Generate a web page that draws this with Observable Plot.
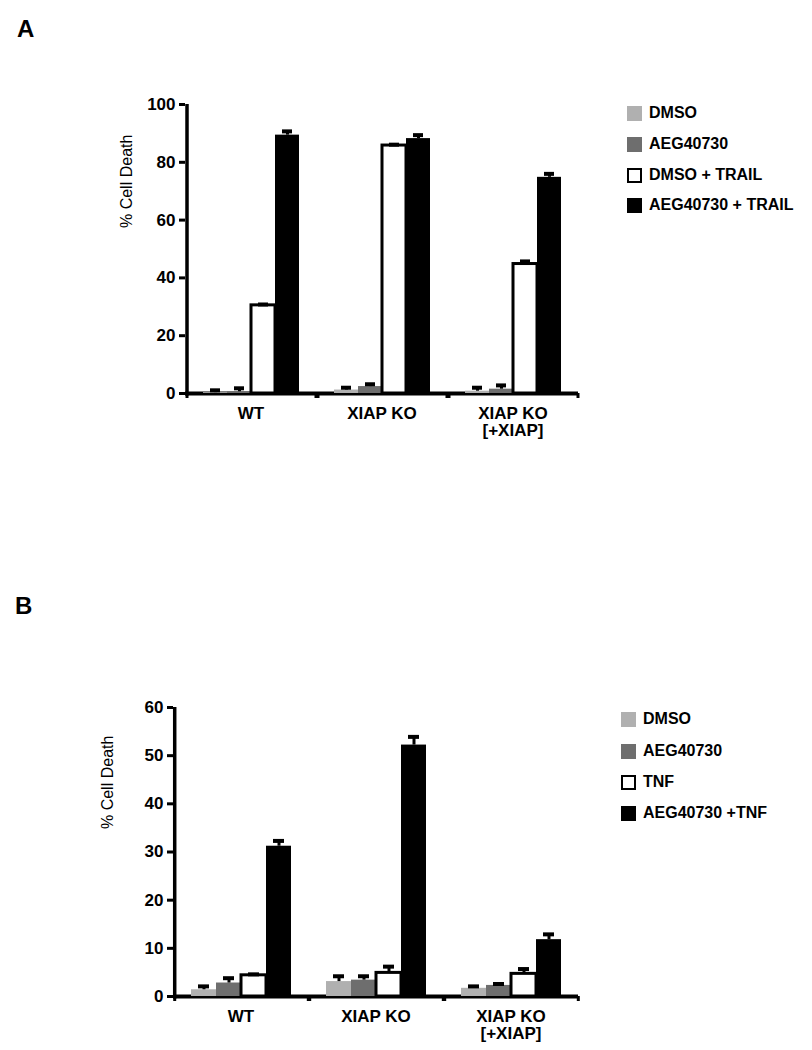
<!DOCTYPE html>
<html><head><meta charset="utf-8">
<script src="https://cdn.jsdelivr.net/npm/d3@7"></script>
<script src="https://cdn.jsdelivr.net/npm/@observablehq/plot@0.6"></script>
<style>
body{margin:0;background:#fff;font-family:"Liberation Sans",Arial,sans-serif;}
#page{position:relative;width:812px;height:1050px;overflow:hidden;background:#fff;}
.panel-label{position:absolute;font-weight:bold;font-size:24px;line-height:24px;}
.legend{position:absolute;font-weight:bold;font-size:16px;color:#000;}
.legend .row{position:absolute;left:0;display:flex;align-items:center;white-space:nowrap;height:16px;}
.sw{width:15px;height:15px;box-sizing:border-box;margin-right:7px;flex:none;}
.chart{position:absolute;left:0;}
</style></head><body><div id="page"></div>
<script>
// ---- shared categories ----
const groups = ["WT", "XIAP KO", "XIAP KO\n[+XIAP]"];
const seriesColors = ["#b0b0b0", "#6e6e6e", "#ffffff", "#000000"];
const yLabel = "% Cell Death";

// ---- panel A (TRAIL) ----
const seriesA = ["DMSO", "AEG40730", "DMSO + TRAIL", "AEG40730 + TRAIL"];
const dmsoA = [0.3, 1.2, 0.8];
const aegA = [0.6, 2.4, 1.5];
const trailA = [30.5, 85.8, 44.8];
const aegTrailA = [89.4, 88.2, 74.8];
const dmsoErrA = [0.8, 0.8, 1.2];
const aegErrA = [1.2, 0.8, 1.3];
const trailErrA = [0.3, 0.3, 0.9];
const aegTrailErrA = [1.3, 1.2, 1.2];
const yTicksA = [0, 20, 40, 60, 80, 100];

// ---- panel B (TNF) ----
const seriesB = ["DMSO", "AEG40730", "TNF", "AEG40730 +TNF"];
const dmsoB = [1.4, 3.1, 1.7];
const aegB = [2.8, 3.4, 2.3];
const tnfB = [4.4, 4.9, 4.7];
const aegTnfB = [31.2, 52.2, 11.8];
const dmsoErrB = [0.7, 1.1, 0.4];
const aegErrB = [1.0, 0.8, 0.3];
const tnfErrB = [0.2, 1.3, 1.0];
const aegTnfErrB = [1.1, 1.7, 1.1];
const yTicksB = [0, 10, 20, 30, 40, 50, 60];

const page = document.getElementById("page");

function makeChart(cfg) {
  const {series, means, errs, yTicks, width, height, ml, mr, mt, mb, po, labelDx, labelDy} = cfg;
  const data = groups.flatMap((g, gi) => series.map((s, si) => ({
    group: g, series: s, mean: means[si][gi], err: errs[si][gi], color: seriesColors[si]
  })));
  const yMax = yTicks[yTicks.length - 1];
  const frameH = height - mt - mb;
  const px = yMax / frameH; // data units per pixel
  const fw = (width - ml - mr) / groups.length;
  const step = fw / (series.length + 2 * po);
  const edge = (po + 0.5) * step;
  const tickLen = 5 * px;
  return Plot.plot({
    width, height, marginLeft: ml, marginRight: mr, marginTop: mt, marginBottom: mb,
    fx: {domain: groups, padding: 0},
    x: {domain: series, paddingInner: 0, paddingOuter: po, axis: null},
    y: {domain: [0, yMax]},
    style: {fontFamily: '"Liberation Sans", Arial, sans-serif', color: "black", background: "white", overflow: "visible"},
    marks: [
      Plot.ruleY([0], {strokeWidth: 4}),
      Plot.barY(data, {fx: "group", x: "series", y1: 0, y2: "mean", fill: "color"}),
      Plot.barY(data.filter(d => d.series === series[2]), {fx: "group", x: "series", y1: 0, y2: "mean", fill: "white", stroke: "black", strokeWidth: 3}),
      Plot.ruleX(data, {fx: "group", x: "series", y1: "mean", y2: d => d.mean + d.err, strokeWidth: 3}),
      Plot.tickY(data, {fx: "group", x: "series", y: d => d.mean + d.err, strokeWidth: 4, insetLeft: 7, insetRight: 7}),
      Plot.ruleX([series[0]], {x: d => d, dx: -edge, y1: 0, y2: -tickLen, strokeWidth: 3}),
      Plot.ruleX([series[series.length - 1]], {x: d => d, dx: edge, y1: 0, y2: -tickLen, strokeWidth: 3}),
      Plot.ruleX([groups[0]], {fx: d => d, x: () => series[0], dx: -edge, y1: -tickLen / 2, y2: yMax, strokeWidth: 3.5}),
      Plot.axisY({ticks: yTicks, tickSize: 6, tickPadding: 4, strokeWidth: 3, fontSize: 17, fontWeight: "bold", label: null}),
      Plot.axisFx({anchor: "bottom", tickSize: 0, tickPadding: 13, fontSize: 17, fontWeight: "bold", label: null}),
      Plot.text([yLabel], {fx: () => groups[0], text: d => d, frameAnchor: "left", rotate: -90, dx: labelDx, dy: labelDy, fontSize: 16})
    ]
  });
}

function addChart(svg, top) {
  const wrap = document.createElement("div");
  wrap.className = "chart";
  wrap.style.top = top + "px";
  wrap.appendChild(svg);
  page.appendChild(wrap);
}

function addLegend(series, left, centers, textGap) {
  const lg = document.createElement("div");
  lg.className = "legend";
  lg.style.left = left + "px";
  lg.style.top = "0px";
  series.forEach((s, i) => {
    const row = document.createElement("div");
    row.className = "row";
    row.style.top = (centers[i] - 8) + "px";
    const sw = document.createElement("div");
    sw.className = "sw";
    sw.style.background = seriesColors[i];
    sw.style.marginRight = textGap + "px";
    if (i === 2) sw.style.border = "2px solid #000";
    const tx = document.createElement("span");
    tx.textContent = s;
    row.appendChild(sw);
    row.appendChild(tx);
    lg.appendChild(row);
  });
  page.appendChild(lg);
}

function addPanelLabel(text, left, top) {
  const d = document.createElement("div");
  d.className = "panel-label";
  d.style.left = left + "px";
  d.style.top = top + "px";
  d.textContent = text;
  page.appendChild(d);
}

addPanelLabel("A", 17, 17);
addPanelLabel("B", 15, 594);

addChart(makeChart({
  series: seriesA,
  means: [dmsoA, aegA, trailA, aegTrailA],
  errs: [dmsoErrA, aegErrA, trailErrA, aegTrailErrA],
  yTicks: yTicksA, width: 600, height: 373, ml: 184, mr: 22, mt: 24, mb: 60, po: 0.65,
  labelDx: -59, labelDy: -21
}), 80);

addChart(makeChart({
  series: seriesB,
  means: [dmsoB, aegB, tnfB, aegTnfB],
  errs: [dmsoErrB, aegErrB, tnfErrB, aegTnfErrB],
  yTicks: yTicksB, width: 600, height: 376, ml: 173, mr: 22, mt: 27, mb: 60, po: 0.65,
  labelDx: -66, labelDy: -23
}), 680);

addLegend(seriesA, 627, [113, 144, 175, 205], 7);
addLegend(seriesB, 621, [719, 751, 782, 813], 7);
</script>
</body></html>
